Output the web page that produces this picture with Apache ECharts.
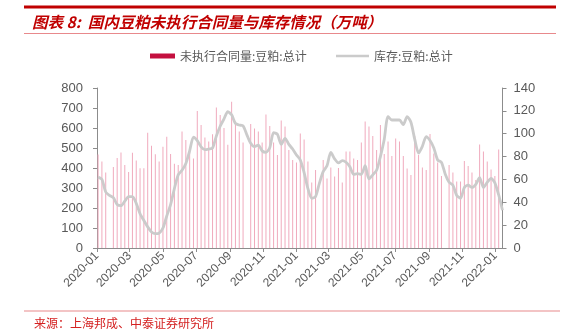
<!DOCTYPE html>
<html>
<head>
<meta charset="utf-8">
<script src="https://cdn.jsdelivr.net/npm/echarts@6/dist/echarts.min.js"></script>
<style>
  html, body { margin: 0; padding: 0; background: #ffffff; }
  #chart { width: 578px; height: 330px; }
</style>
</head>
<body>
<div id="chart"></div>
<script>
// Weekly observation dates (Fridays)
const weeks = [
  '2020-01-03','2020-01-10','2020-01-17','2020-01-24','2020-01-31',
  '2020-02-07','2020-02-14','2020-02-21','2020-02-28',
  '2020-03-06','2020-03-13','2020-03-20','2020-03-27',
  '2020-04-03','2020-04-10','2020-04-17','2020-04-24',
  '2020-05-01','2020-05-08','2020-05-15','2020-05-22','2020-05-29',
  '2020-06-05','2020-06-12','2020-06-19','2020-06-26',
  '2020-07-03','2020-07-10','2020-07-17','2020-07-24','2020-07-31',
  '2020-08-07','2020-08-14','2020-08-21','2020-08-28',
  '2020-09-04','2020-09-11','2020-09-18','2020-09-25',
  '2020-10-02','2020-10-09','2020-10-16','2020-10-23','2020-10-30',
  '2020-11-06','2020-11-13','2020-11-20','2020-11-27',
  '2020-12-04','2020-12-11','2020-12-18','2020-12-25',
  '2021-01-01','2021-01-08','2021-01-15','2021-01-22','2021-01-29',
  '2021-02-05','2021-02-12','2021-02-19','2021-02-26',
  '2021-03-05','2021-03-12','2021-03-19','2021-03-26',
  '2021-04-02','2021-04-09','2021-04-16','2021-04-23','2021-04-30',
  '2021-05-07','2021-05-14','2021-05-21','2021-05-28',
  '2021-06-04','2021-06-11','2021-06-18','2021-06-25',
  '2021-07-02','2021-07-09','2021-07-16','2021-07-23','2021-07-30',
  '2021-08-06','2021-08-13','2021-08-20','2021-08-27',
  '2021-09-03','2021-09-10','2021-09-17','2021-09-24',
  '2021-10-01','2021-10-08','2021-10-15','2021-10-22','2021-10-29',
  '2021-11-05','2021-11-12','2021-11-19','2021-11-26',
  '2021-12-03','2021-12-10','2021-12-17','2021-12-24','2021-12-31',
  '2022-01-07','2022-01-14'
];

// 未执行合同量:豆粕:总计 (万吨), null = holiday week without a report
const unexecuted = [
  468, 432, 377, null, 405, 450, 478, 415, 380, 476,
  437, 399, 399, 576, 511, 469, 432, 506, 556, 470,
  421, 415, 583, 540, 500, 448, 685, 615, 552, 532,
  569, 702, 665, 600, 516, 731, 632, 582, 527, null,
  620, 598, 582, 527, 668, 610, 527, 465, 637, 607,
  490, 440, 427, 573, 543, 432, 327, 390, null, 440,
  348, 403, 357, 400, 327, 482, 482, 448, 440, 527,
  632, 608, 560, 490, 615, 470, 532, 460, 548, 532,
  460, 398, 365, 560, 465, 403, 390, 570, 473, 428,
  360, null, 415, 377, 332, 332, 435, 410, 377, 340,
  518, 482, 432, 393, 360, 493, null
];

// 库存:豆粕:总计 (万吨)
const inventory = [
  62, 60, 49, 46, 44, 38, 37, 41, 45, 45,
  39, 30, 24, 18.5, 14, 12.5, 13, 17.5, 28, 38,
  52, 64, 68, 74, 85, 97, 94, 88.5, 86, 86.6,
  87.5, 98, 106.5, 113, 119.3, 116.5, 109, 107.6, 106.8, 99,
  91.6, 88.7, 90, 85, 83.7, 87.8, 101, 99.5, 90.7, 96,
  90.7, 86.6, 81.4, 77, 66, 52, 43.5, 45, 56.6, 66.8,
  72, 83.7, 78, 74.5, 76.5, 75, 71, 64.5, 65, 64.5,
  72, 60.4, 64, 68, 80, 95, 115, 112, 112, 112,
  108, 115, 110, 95, 83, 89, 97.4, 94, 87.5, 77,
  75, 64.5, 57.5, 55, 46, 43.5, 53, 55, 53, 55.7,
  61.5, 53, 57.5, 61, 57, 46.4, 33
];

// Month ticks on the date axis
const monthTicks = [
  '2020-01','2020-03','2020-05','2020-07','2020-09','2020-11',
  '2021-01','2021-03','2021-05','2021-07','2021-09','2021-11','2022-01'
];
const axisStart = '2020-01-01';
const axisEnd = '2022-01-14';

const leftTicks = { min: 0, max: 800, interval: 100 };
const rightTicks = { min: 0, max: 140, interval: 20 };

const barName = '未执行合同量:豆粕:总计';
const lineName = '库存:豆粕:总计';

function toTime(s) {
  const p = s.split('-').map(Number);
  return new Date(p[0], p[1] - 1, p[2] || 1).getTime();
}
function pad2(n) { return (n < 10 ? '0' : '') + n; }
const tickValues = monthTicks.map(m => toTime(m));

const chart = echarts.init(document.getElementById('chart'), null, { renderer: 'canvas' });

const axisGrey = '#8c8c8c';
const labelGrey = '#595959';
const brandRed = '#c00000';
const barPink = '#f0aabd';
const legendCrimson = '#c4103f';
const lineGrey = '#cbcbcb';

chart.setOption({
  animation: false,
  backgroundColor: '#ffffff',
  title: {
    text: '图表 8:  国内豆粕未执行合同量与库存情况（万吨）',
    left: 32,
    top: 14,
    padding: 0,
    textStyle: {
      fontFamily: '"Noto Sans CJK SC", sans-serif',
      fontSize: 15.5,
      fontWeight: 'bold',
      fontStyle: 'italic',
      color: brandRed
    }
  },
  graphic: [
    { type: 'rect', shape: { x: 24, y: 5.5, width: 532, height: 3 }, style: { fill: brandRed }, silent: true },
    { type: 'rect', shape: { x: 24, y: 33, width: 532, height: 1 }, style: { fill: '#e8898c' }, silent: true },
    { type: 'rect', shape: { x: 24, y: 310.5, width: 536, height: 1 }, style: { fill: '#e8898c' }, silent: true },
    {
      type: 'text', left: 34, top: 317, silent: true,
      style: {
        text: '来源：上海邦成、中泰证券研究所',
        font: '12px "Noto Sans CJK SC", sans-serif',
        fill: '#d42020'
      }
    }
  ],
  legend: [
    {
      data: [{ name: barName, icon: 'rect', itemStyle: { color: legendCrimson } }],
      left: 150, top: 50,
      itemWidth: 25, itemHeight: 5, itemGap: 6,
      padding: 0,
      textStyle: { fontFamily: '"Noto Sans CJK SC", sans-serif', fontSize: 12, color: labelGrey }
    },
    {
      data: [{ name: lineName, icon: 'rect', itemStyle: { color: lineGrey } }],
      left: 336, top: 50,
      itemWidth: 33, itemHeight: 2.5,
      padding: 0,
      textStyle: { fontFamily: '"Noto Sans CJK SC", sans-serif', fontSize: 12, color: labelGrey }
    }
  ],
  grid: { left: 97, right: 75.5, top: 88, bottom: 82, containLabel: false },
  xAxis: {
    type: 'value',
    min: toTime(axisStart),
    max: toTime(axisEnd),
    scale: true,
    axisLine: { show: true, onZero: false, lineStyle: { color: axisGrey, width: 1 } },
    axisTick: { show: true, customValues: tickValues, length: 4, lineStyle: { color: axisGrey } },
    axisLabel: {
      customValues: tickValues,
      rotate: 45,
      margin: 6,
      fontFamily: 'Liberation Sans, Arial, sans-serif',
      fontSize: 12,
      color: labelGrey,
      formatter: function (v) {
        const d = new Date(v);
        return d.getFullYear() + '-' + pad2(d.getMonth() + 1);
      }
    },
    splitLine: { show: false }
  },
  yAxis: [
    {
      type: 'value',
      min: leftTicks.min, max: leftTicks.max, interval: leftTicks.interval,
      axisLine: { show: true, lineStyle: { color: axisGrey } },
      axisTick: { show: true, length: 4, lineStyle: { color: axisGrey } },
      axisLabel: { margin: 14, fontFamily: 'Liberation Sans, Arial, sans-serif', fontSize: 13, color: labelGrey },
      splitLine: { show: false }
    },
    {
      type: 'value',
      position: 'right',
      min: rightTicks.min, max: rightTicks.max, interval: rightTicks.interval,
      axisLine: { show: true, lineStyle: { color: axisGrey } },
      axisTick: { show: true, length: 4, lineStyle: { color: axisGrey } },
      axisLabel: { margin: 11, fontFamily: 'Liberation Sans, Arial, sans-serif', fontSize: 13, color: labelGrey },
      splitLine: { show: false }
    }
  ],
  series: [
    {
      name: barName,
      type: 'bar',
      yAxisIndex: 0,
      barWidth: 1,
      itemStyle: { color: barPink },
      data: weeks.map((d, i) => [toTime(d), unexecuted[i]]),
      z: 2
    },
    {
      name: lineName,
      type: 'line',
      yAxisIndex: 1,
      smooth: 0.25,
      symbol: 'none',
      lineStyle: { color: lineGrey, width: 2.8 },
      itemStyle: { color: lineGrey },
      data: weeks.map((d, i) => [toTime(d), inventory[i]]),
      z: 3
    }
  ]
});
</script>
</body>
</html>
